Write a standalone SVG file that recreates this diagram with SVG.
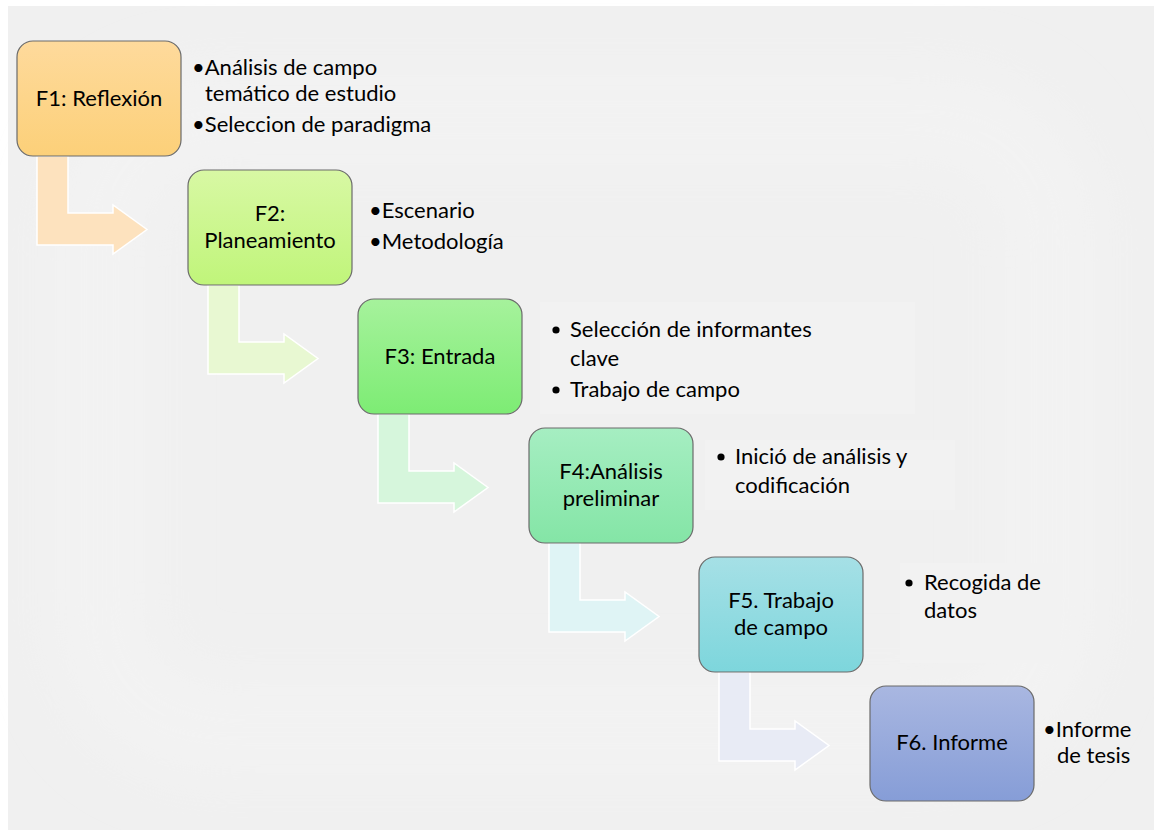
<svg xmlns="http://www.w3.org/2000/svg" width="1154" height="830" viewBox="0 0 1154 830">
<defs>
<linearGradient id="g1" x1="0" y1="0" x2="0" y2="1"><stop offset="0" stop-color="#feda9c"/><stop offset="1" stop-color="#fcd079"/></linearGradient>
<linearGradient id="g2" x1="0" y1="0" x2="0" y2="1"><stop offset="0" stop-color="#d8f8a4"/><stop offset="1" stop-color="#c0f57a"/></linearGradient>
<linearGradient id="g3" x1="0" y1="0" x2="0" y2="1"><stop offset="0" stop-color="#a6f29c"/><stop offset="1" stop-color="#7dec74"/></linearGradient>
<linearGradient id="g4" x1="0" y1="0" x2="0" y2="1"><stop offset="0" stop-color="#a6eec2"/><stop offset="1" stop-color="#84e5a6"/></linearGradient>
<linearGradient id="g5" x1="0" y1="0" x2="0" y2="1"><stop offset="0" stop-color="#a6e0e6"/><stop offset="1" stop-color="#7dd6dc"/></linearGradient>
<linearGradient id="g6" x1="0" y1="0" x2="0" y2="1"><stop offset="0" stop-color="#a9b7e1"/><stop offset="1" stop-color="#869dd7"/></linearGradient>
<filter id="soft" x="-20%" y="-20%" width="140%" height="140%"><feGaussianBlur stdDeviation="30"/></filter>
</defs>
<style>
.box{stroke:#6b6b6b;stroke-width:1.2}
.arr{stroke:#ffffff;stroke-width:1.5}
.t{font-family:"Lato","Liberation Sans",sans-serif;font-size:22px;fill:#000000}
.c{text-anchor:middle}
</style>
<rect x="0" y="0" width="1154" height="830" fill="#ffffff"/>
<rect x="8" y="6" width="1146" height="824" fill="#f0f0f0"/>
<rect x="100" y="120" width="950" height="610" rx="110" fill="none" stroke="#f3f3f3" stroke-width="90" filter="url(#soft)"/>
<g id="textbg" fill="#f2f2f2">
<rect x="540" y="302" width="375" height="112"/>
<rect x="705" y="440" width="250" height="70"/>
<rect x="900" y="563" width="160" height="100"/>
</g>
<g id="connectors">
<path class="arr" fill="#fde2be" d="M37,156 L68,156 L68,213 L113,213 L113,205 L147,229.5 L113,254 L113,245 L37,245 Z"/>
<path class="arr" fill="#e8f8d2" d="M208,285 L239,285 L239,342 L284,342 L284,334 L318,358.5 L284,383 L284,374 L208,374 Z"/>
<path class="arr" fill="#d6f6dc" d="M378,414 L409,414 L409,471 L454,471 L454,463 L488,487.5 L454,512 L454,503 L378,503 Z"/>
<path class="arr" fill="#dff4f5" d="M549,543 L580,543 L580,600 L625,600 L625,592 L659,616.5 L625,641 L625,632 L549,632 Z"/>
<path class="arr" fill="#e8ebf5" d="M719,672 L750,672 L750,729 L795,729 L795,721 L829,745.5 L795,770 L795,761 L719,761 Z"/>
</g>
<g id="F1">
<rect class="box" x="17" y="41" width="164" height="115" rx="16" fill="url(#g1)"/>
<text class="t c" x="99" y="106">F1: Reflexión</text>
<text class="t" x="192" y="75">•Análisis de campo</text>
<text class="t" x="205" y="101">temático de estudio</text>
<text class="t" x="192" y="132">•Seleccion de paradigma</text>
</g>
<g id="F2">
<rect class="box" x="188" y="170" width="164" height="115" rx="16" fill="url(#g2)"/>
<text class="t c" x="270" y="221">F2:</text>
<text class="t c" x="270" y="248">Planeamiento</text>
<text class="t" x="369" y="218">•Escenario</text>
<text class="t" x="369" y="249">•Metodología</text>
</g>
<g id="F3">
<rect class="box" x="358" y="299" width="164" height="115" rx="16" fill="url(#g3)"/>
<text class="t c" x="440" y="364">F3: Entrada</text>
<circle cx="556" cy="330" r="3.6" fill="#000"/>
<text class="t" x="570" y="337">Selección de informantes</text>
<text class="t" x="570" y="366">clave</text>
<circle cx="556" cy="390" r="3.6" fill="#000"/>
<text class="t" x="570" y="397">Trabajo de campo</text>
</g>
<g id="F4">
<rect class="box" x="529" y="428" width="164" height="115" rx="16" fill="url(#g4)"/>
<text class="t c" x="611" y="479">F4:Análisis</text>
<text class="t c" x="611" y="506">preliminar</text>
<circle cx="721" cy="457" r="3.6" fill="#000"/>
<text class="t" x="735" y="464">Inició de análisis y</text>
<text class="t" x="735" y="493">codificación</text>
</g>
<g id="F5">
<rect class="box" x="699" y="557" width="164" height="115" rx="16" fill="url(#g5)"/>
<text class="t c" x="781" y="608">F5. Trabajo</text>
<text class="t c" x="781" y="635">de campo</text>
<circle cx="909" cy="583" r="3.6" fill="#000"/>
<text class="t" x="924" y="590">Recogida de</text>
<text class="t" x="924" y="618">datos</text>
</g>
<g id="F6">
<rect class="box" x="870" y="686" width="164" height="115" rx="16" fill="url(#g6)"/>
<text class="t c" x="952" y="750">F6. Informe</text>
<text class="t" x="1043" y="737">•Informe</text>
<text class="t" x="1057" y="763">de tesis</text>
</g>
</svg>
